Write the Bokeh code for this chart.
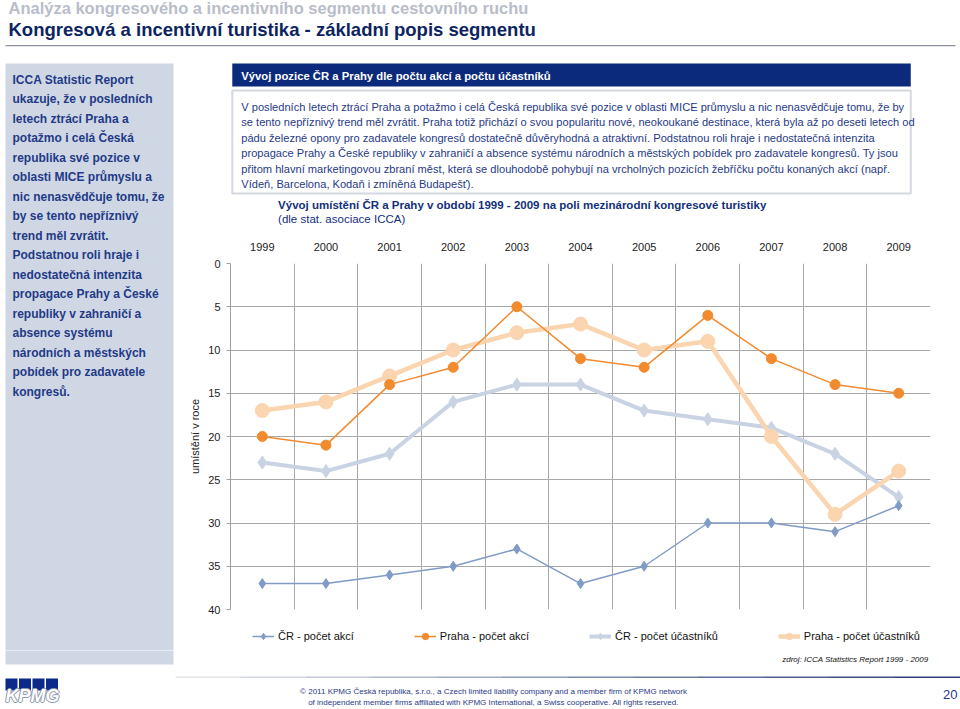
from bokeh.plotting import figure
from bokeh.layouts import column, row
from bokeh.models import (Range1d, FixedTicker, Label, BoxAnnotation, Legend, LegendItem,
                          ColumnDataSource)
from bokeh.embed import file_html
from bokeh.resources import INLINE

# ---------------- data ----------------
years = ["1999", "2000", "2001", "2002", "2003", "2004", "2005", "2006", "2007", "2008", "2009"]
cr_akce = [37, 37, 36, 35, 33, 37, 35, 30, 30, 31, 28]
praha_akce = [20, 21, 14, 12, 5, 11, 12, 6, 11, 14, 15]
cr_ucastnici = [23, 24, 22, 16, 14, 14, 17, 18, 19, 22, 27]
praha_ucastnici = [17, 16, 13, 10, 8, 7, 10, 9, 20, 29, 24]
y_ticks = [0, 5, 10, 15, 20, 25, 30, 35, 40]
series_names = ["ČR - počet akcí", "Praha - počet akcí", "ČR - počet účastníků", "Praha - počet účastníků"]

FONT = "Liberation Sans"
NAVY = "#13307a"
TXT = "#1f3a86"

# series styles: (line colour, line width, marker, marker size)
styles = [("#7f9bc6", 1.5, "diamond", 10),
          ("#f28a2e", 1.5, "circle", 10),
          ("#c9d3e3", 4, "diamond", 13),
          ("#fad5b0", 4.5, "circle", 14)]
series_values = [cr_akce, praha_akce, cr_ucastnici, praha_ucastnici]


def deco(x0, y0, w, h):
    f = figure(width=w, height=h, x_range=Range1d(x0, x0 + w), y_range=Range1d(y0 + h, y0),
               x_axis_type=None, y_axis_type=None, min_border=0, toolbar_location=None,
               output_backend="svg")
    f.outline_line_color = None
    f.background_fill_color = "white"
    f.border_fill_color = "white"
    return f


def box(f, X0, Y0, X1, Y1, fill, line=None, lw=1):
    f.add_layout(BoxAnnotation(left=X0, right=X1, top=Y0, bottom=Y1,
                               fill_color=fill, fill_alpha=1 if fill else 0,
                               line_color=line, line_alpha=1, line_width=lw))


def label(f, X, Y, text, size, color, font=FONT, style="normal", align="left"):
    f.add_layout(Label(x=X, y=Y, text=text, text_font=font, text_font_size=f"{size}px",
                       text_color=color, text_font_style=style, text_align=align,
                       text_baseline="middle"))


# ---------------- header ----------------
hdr = deco(0, 0, 960, 56)
label(hdr, 8, 7, "Analýza kongresového a incentivního segmentu cestovního ruchu", 16.5, "#b9bdc9", style="bold")
label(hdr, 8, 29, "Kongresová a incentivní turistika - základní popis segmentu", 18.5, "#0c2461", style="bold")
box(hdr, 5, 44.5, 955, 45.8, "#8a90a2")

# ---------------- left panel ----------------
left = deco(0, 56, 180, 594)
box(left, 5, 63, 173, 652, "#cfd7e5")
left_lines = ["ICCA Statistic Report", "ukazuje, že v posledních", "letech ztrácí Praha a",
              "potažmo i celá Česká", "republika své pozice v", "oblasti MICE průmyslu a",
              "nic nenasvědčuje tomu, že", "by se tento nepříznivý", "trend měl zvrátit.",
              "Podstatnou roli hraje i", "nedostatečná intenzita", "propagace Prahy a České",
              "republiky v zahraničí a", "absence systému", "národních a městských",
              "pobídek pro zadavatele", "kongresů."]
for i, t in enumerate(left_lines):
    label(left, 12, 79 + i * 19.5, t, 12, TXT, style="bold")

# ---------------- right top (bar, paragraph, chart title) ----------------
rt = deco(180, 56, 780, 169)
box(rt, 182, 63, 938, 86, "#0b2a7c")
label(rt, 192, 75, "Vývoj pozice ČR a Prahy dle počtu akcí a počtu účastníků", 11.3, "white", style="bold")
box(rt, 182, 90, 938, 193, "white", line="#d4d8e0", lw=2)
para = ["V posledních letech ztrácí Praha a potažmo i celá Česká republika své pozice v oblasti MICE průmyslu a nic nenasvědčuje tomu, že by",
        "se tento nepříznivý trend měl zvrátit. Praha totiž přichází o svou popularitu nové, neokoukané destinace, která byla až po deseti letech od",
        "pádu železné opony pro zadavatele kongresů dostatečně důvěryhodná a atraktivní. Podstatnou roli hraje i nedostatečná intenzita",
        "propagace Prahy a České republiky v zahraničí a absence systému národních a městských pobídek pro zadavatele kongresů. Ty jsou",
        "přitom hlavní marketingovou zbraní měst, která se dlouhodobě pohybují na vrcholných pozicích žebříčku počtu konaných akcí (např.",
        "Vídeň, Barcelona, Kodaň i zmíněná Budapešť)."]
for i, t in enumerate(para):
    label(rt, 192, 106 + i * 15.5, t, 11.1, TXT)
label(rt, 233, 204, "Vývoj umístění ČR a Prahy v období 1999 - 2009 na poli mezinárodní kongresové turistiky", 11.5, NAVY, style="bold")
label(rt, 233, 218, "(dle stat. asociace ICCA)", 11.5, NAVY)

# ---------------- chart ----------------
# chart figure spans slide x 180..960, y 225..622 ; frame 230..930 x 263..609
n = len(years)
xs = list(range(n))
p = figure(width=780, height=397, output_backend="svg", toolbar_location=None,
           x_range=Range1d(-0.5, n - 0.5), y_range=Range1d(40, 0),
           x_axis_location="above",
           min_border_left=50, min_border_right=30, min_border_top=38, min_border_bottom=13)
p.title = None
p.outline_line_color = None
p.background_fill_color = "white"
p.border_fill_color = "white"

xa = p.xaxis[0]
xa.ticker = FixedTicker(ticks=xs)
xa.major_label_overrides = {i: y for i, y in enumerate(years)}
xa.axis_line_color = None
xa.major_tick_line_color = None
xa.minor_tick_line_color = None
xa.major_label_standoff = 7
xa.major_label_text_font = FONT
xa.major_label_text_font_size = "11px"
xa.major_label_text_color = "#222222"

ya = p.yaxis[0]
ya.ticker = FixedTicker(ticks=y_ticks)
ya.axis_line_color = "#a0a0a0"
ya.major_tick_line_color = "#a0a0a0"
ya.major_tick_out = 4
ya.major_tick_in = 0
ya.minor_tick_line_color = None
ya.major_label_standoff = 6
ya.major_label_text_font = FONT
ya.major_label_text_font_size = "11px"
ya.major_label_text_color = "#222222"
ya.axis_label = "umístění v roce"
ya.axis_label_text_font = FONT
ya.axis_label_text_font_style = "normal"
ya.axis_label_text_font_size = "11px"
ya.axis_label_text_color = "#222222"
ya.axis_label_standoff = 4

p.xgrid.ticker = FixedTicker(ticks=[i - 0.5 for i in range(n + 1)])
p.ygrid.ticker = FixedTicker(ticks=y_ticks)
for g in (p.xgrid[0], p.ygrid[0]):
    g.grid_line_color = "#a8a8a8"
    g.grid_line_width = 1

draw_order = [2, 3, 0, 1]
for k in draw_order:
    col, lw, mk, ms = styles[k]
    s = ColumnDataSource(dict(x=xs, y=series_values[k]))
    p.line("x", "y", source=s, line_color=col, line_width=lw)
    p.scatter("x", "y", source=s, marker=mk, size=ms, fill_color=col, line_color=col)

# ---------------- legend strip ----------------
lg = deco(180, 622, 780, 28)
items = []
nan = float("nan")
for k in range(4):
    col, lw, mk, ms = styles[k]
    holder = ColumnDataSource(dict(x=[nan], y=[nan]))
    r1 = lg.line("x", "y", source=holder, line_color=col, line_width=lw)
    r2 = lg.scatter("x", "y", source=holder, marker=mk, size=ms * 0.7, fill_color=col, line_color=col)
    items.append(LegendItem(label=series_names[k], renderers=[r1, r2]))
legend = Legend(items=items, orientation="horizontal", location=(22, 6),
                padding=0, margin=0, spacing=60, glyph_width=22, glyph_height=16,
                label_standoff=4, border_line_color=None, background_fill_alpha=0,
                label_text_font=FONT, label_text_font_size="11px", label_text_color="#111111",
                label_height=16)
lg.add_layout(legend)

# ---------------- footer ----------------
ft = deco(0, 650, 960, 59)
box(ft, 5, 648, 173, 664, "#cfd7e5")
label(ft, 928, 659, "zdroj: ICCA Statistics Report 1999 - 2009", 8, "#111111", style="italic", align="right")
steps = 12
c0 = (0xe2, 0xe5, 0xec)
c1 = (0x2e, 0x40, 0x7c)
for k in range(steps):
    t = k / (steps - 1)
    colr = "#%02x%02x%02x" % tuple(int(c0[j] + (c1[j] - c0[j]) * t) for j in range(3))
    x0 = 175 + (960 - 175) * k / steps
    x1 = 175 + (960 - 175) * (k + 1) / steps + 0.5
    box(ft, x0, 676, x1, 677.5, colr)
label(ft, 493, 691, "© 2011 KPMG Česká republika, s.r.o., a Czech limited liability company and a member firm of KPMG network", 8, TXT, align="center")
label(ft, 493, 702, "of independent member firms affiliated with KPMG International, a Swiss cooperative. All rights reserved.", 8, TXT, align="center")
label(ft, 957, 694, "20", 13, TXT, align="right")
for k in range(4):
    box(ft, 5 + k * 13.5, 678, 17 + k * 13.5, 690, "#0b2a8a")
for dx, dy in [(-1, 0), (1, 0), (0, -1), (0, 1)]:
    label(ft, 5 + dx, 695 + dy, "KPMG", 18, "#8e97ad", style="bold italic")
label(ft, 5, 695, "KPMG", 18, "white", style="bold italic")

layout = column(hdr, row(left, column(rt, p, lg)), ft)
open("out.html", "w").write(file_html(layout, INLINE))
